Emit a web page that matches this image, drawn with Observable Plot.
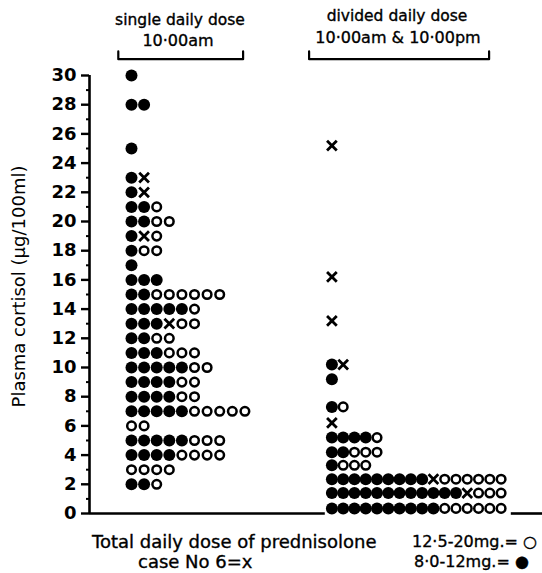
<!DOCTYPE html>
<html>
<head>
<meta charset="utf-8">
<script src="https://cdn.jsdelivr.net/npm/d3@7"></script>
<script src="https://cdn.jsdelivr.net/npm/@observablehq/plot@0.6"></script>
<style>
  html, body { margin: 0; padding: 0; background: #fff; overflow: hidden; }
  #wrap { position: relative; width: 542px; height: 573px; font-family: "DejaVu Sans", sans-serif; color: #000; }
  .t { position: absolute; white-space: nowrap; line-height: 1; -webkit-text-stroke: 0.35px #000; }
  .c { transform: translateX(-50%); }
</style>
</head>
<body>
<div id="wrap"></div>
<script>
// ---- data ----
// F = 8·0-12 mg (filled), O = 12·5-20 mg (open), X = case No 6
const singleY = [30, 28, 25, 23, 22, 21, 20, 19, 18, 17, 16, 15, 14, 13, 12, 11, 10, 9, 8, 7, 6, 5, 4, 3, 2];
const singleRows = ["F", "FF", "F", "FX", "FX", "FFO", "FFOO", "FXO", "FOO", "F", "FFF", "FFOOOOOO",
  "FFFFFO", "FFFXOO", "FFOO", "FFFOOO", "FFFFFOO", "FFFFOO", "FFFFOO", "FFFFFOOOOO", "OO",
  "FFFFFOOO", "FFFFOOOO", "OOOO", "FFO"];
const dividedY = [25.2, 16.2, 13.2, 10.2, 9.2, 7.3, 6.2, 5.2, 4.2, 3.3, 2.35, 1.4, 0.35];
const dividedRows = ["X", "X", "X", "FX", "F", "FO", "X", "FFFFO", "FFOOO", "FOOO",
  "FFFFFFFFFXOOOOOO", "FFFFFFFFFFFFXOOO", "FFFFFFFFFFOOOOOO"];
const yTicks = [0, 2, 4, 6, 8, 10, 12, 14, 16, 18, 20, 22, 24, 26, 28, 30];
const yLabel = "Plasma cortisol (µg/100ml)";

// ---- layout of the two groups (in slot units of the x scale) ----
const groups = [
  {ys: singleY, rows: singleRows, start: 3.5, step: 1.05, bFrom: -1.1, bTo: 9.3},
  {ys: dividedY, rows: dividedRows, start: 20.2, step: 0.94, bFrom: -1.9, bTo: 13.1}
];
const xMax = 37.75;

const pts = [];
groups.forEach(g => g.rows.forEach((row, r) => {
  [...row].forEach((k, i) => pts.push({x: g.start + i * g.step, y: g.ys[r], kind: k}));
}));

const brackets = groups.map(g => {
  const a = g.start + g.bFrom, b = g.start + g.bTo;
  return [{x: a, y: 31.65}, {x: a, y: 31.12}, {x: b, y: 31.12}, {x: b, y: 31.65}];
});

// bottom axis line broken around the bottom row of the divided group
const dg = groups[1];
const lastLen = dg.rows[dg.rows.length - 1].length;
const baseSegs = [
  {x1: 0, x2: dg.start - 0.55},
  {x1: dg.start + (lastLen - 1) * dg.step + 0.85, x2: xMax}
];

const chart = Plot.plot({
  width: 542,
  height: 573,
  marginLeft: 89,
  marginRight: 0,
  marginTop: 75,
  marginBottom: 60,
  style: {fontFamily: "DejaVu Sans, sans-serif", background: "white", overflow: "visible"},
  x: {domain: [0, xMax], axis: null},
  y: {domain: [0, 30], axis: null},
  marks: [
    Plot.axisY({ticks: yTicks.map(v => v + 1).filter(v => v < 30), tickSize: 3, text: null, strokeWidth: 2, label: null}),
    Plot.axisY({ticks: yTicks, tickSize: 8, tickPadding: 5, fontSize: 18, fontWeight: "bold", strokeWidth: 2.4, label: null}),
    Plot.ruleX([0], {y1: 0, y2: 30, strokeWidth: 2.6}),
    Plot.ruleY(baseSegs, {y: 0, x1: "x1", x2: "x2", strokeWidth: 2.6}),
    ...brackets.map(b => Plot.line(b, {x: "x", y: "y", strokeWidth: 2.2, clip: false})),
    Plot.dot(pts.filter(d => d.kind === "F"), {x: "x", y: "y", r: 6, fill: "black"}),
    Plot.dot(pts.filter(d => d.kind === "O"), {x: "x", y: "y", r: 4.3, fill: "white", stroke: "black", strokeWidth: 2.5}),
    Plot.dot(pts.filter(d => d.kind === "X"), {x: "x", y: "y", r: 4.5, symbol: "times", stroke: "black", strokeWidth: 2.8}),
    Plot.text([yLabel], {frameAnchor: "left", textAnchor: "middle", rotate: -90, dx: -70, dy: -8, fontSize: 18, fill: "black", fontWeight: 500})
  ]
});

const wrap = document.getElementById("wrap");
wrap.appendChild(chart);
chart.style.position = "absolute";
chart.style.left = "0px";
chart.style.top = "0px";

function addText(txt, left, top, size, center) {
  const d = document.createElement("div");
  d.className = "t" + (center ? " c" : "");
  d.textContent = txt;
  d.style.left = left + "px";
  d.style.top = top + "px";
  d.style.fontSize = size + "px";
  wrap.appendChild(d);
}
addText("single daily dose", 180, 13, 15.5, true);
addText("10·00am", 178, 33, 16, true);
addText("divided daily dose", 397, 9, 15.5, true);
addText("10·00am & 10·00pm", 398, 30, 16, true);
addText("Total daily dose of prednisolone", 92, 533, 18, false);
addText("case No 6=x", 138, 553, 18, false);
addText("12·5-20mg.= ○", 412, 534, 16, false);
addText("8·0-12mg.= ●", 414, 554, 16, false);
</script>
</body>
</html>
